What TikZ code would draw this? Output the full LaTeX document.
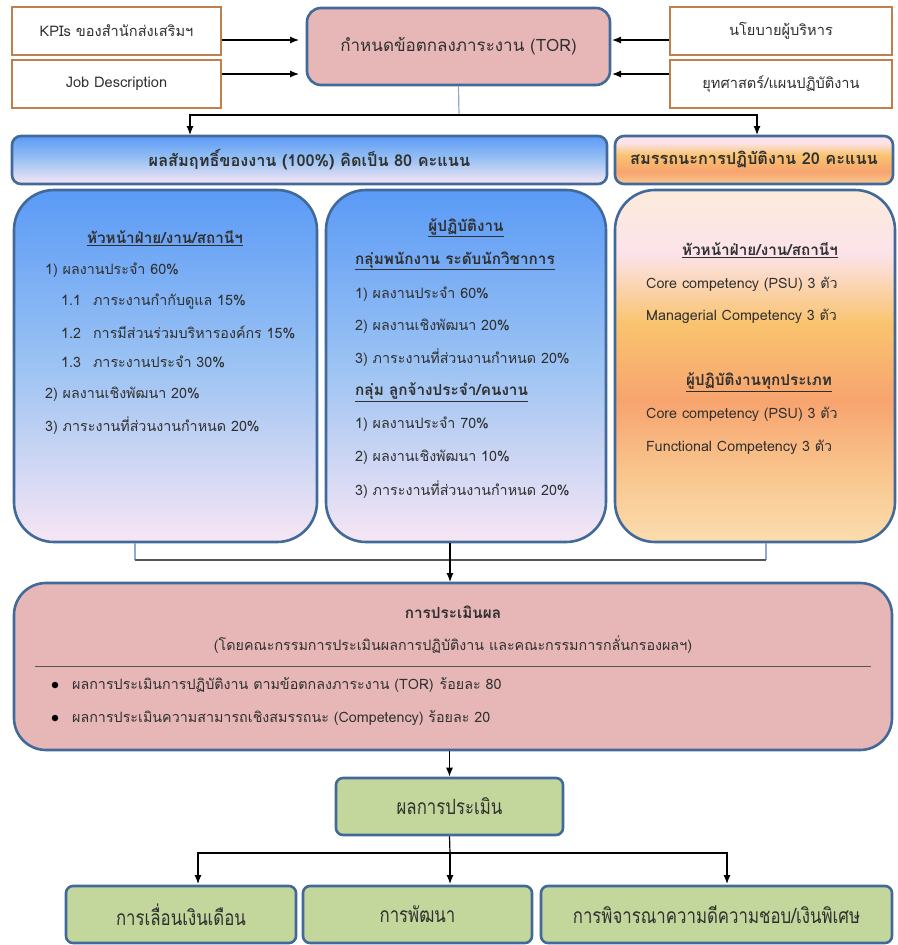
\documentclass[tikz,border=0pt]{standalone}
\usepackage{fontspec}
\setmainfont[Script=Thai]{Loma}
\usetikzlibrary{arrows.meta}

% palette
\definecolor{frameblue}{HTML}{41699A}
\definecolor{framebrown}{HTML}{C0804E}
\definecolor{torpink}{HTML}{E6B7B6}
\definecolor{leafgreen}{HTML}{C3D69B}
\definecolor{inktext}{HTML}{303030}
\definecolor{linkblue}{HTML}{8FAACB}
\definecolor{linkgray}{HTML}{555555}
\definecolor{blueTop}{HTML}{5A9AF6}
\definecolor{blueMid}{HTML}{9CC3F3}
\definecolor{blueBot}{HTML}{F7E6F4}
\definecolor{orA}{HTML}{FCEBDC}
\definecolor{orB}{HTML}{FCE3EA}
\definecolor{orC}{HTML}{F9C36E}
\definecolor{orD}{HTML}{F7A46F}
\definecolor{orE}{HTML}{F9C890}
\definecolor{orF}{HTML}{FBDCAE}

% vertical shadings, 25bp = bottom of the path, 75bp = top
\pgfdeclareverticalshading{bluefade}{100bp}{%
  color(0bp)=(blueBot); color(25bp)=(blueBot); color(50bp)=(blueMid);
  color(75bp)=(blueTop); color(100bp)=(blueTop)}
\pgfdeclareverticalshading{orangefade}{100bp}{%
  color(0bp)=(orF); color(25bp)=(orF); color(34bp)=(orE); color(45bp)=(orD);
  color(56bp)=(orC); color(66bp)=(orB); color(75bp)=(orA); color(100bp)=(orA)}
\pgfdeclareverticalshading{orangebar}{100bp}{%
  color(0bp)=(orE); color(25bp)=(orE); color(38bp)=(orD); color(55bp)=(orC);
  color(68bp)=(orB); color(75bp)=(orB); color(100bp)=(orB)}

\newcommand{\fsBody}{\fontsize{14.3}{17}\selectfont}
\newcommand{\fsTitle}{\fontsize{15.3}{18}\selectfont}
\newcommand{\fsSrc}{\fontsize{14.6}{17}\selectfont}
\newcommand{\fsHead}{\fontsize{16.3}{19}\selectfont}
\newcommand{\fsTor}{\fontsize{17}{20}\selectfont}
% narrow, tall lettering of the result boxes
\newcommand{\leaftext}[1]{\scalebox{0.8}[1]{\fontsize{21}{24}\selectfont #1}}

\begin{document}
\begin{tikzpicture}[x=1pt,y=-1pt,
  every node/.style={text=inktext},
  srcbox/.style={draw=framebrown, line width=1.3pt, fill=white, font=\fsSrc},
  torbox/.style={draw=frameblue, line width=2.6pt, fill=torpink, rounded corners=14pt, font=\fsTor},
  barbox/.style={draw=frameblue, line width=2.6pt, rounded corners=9pt, font=\fsHead\bfseries},
  colbox/.style={draw=frameblue, line width=2.6pt, rounded corners=40pt},
  evalbox/.style={draw=frameblue, line width=2.6pt, fill=torpink, rounded corners=32pt},
  leafbox/.style={draw=frameblue, line width=2.6pt, fill=leafgreen, rounded corners=7pt},
  line/.style={anchor=west, inner sep=0pt, font=\fsBody},
  headline/.style={inner sep=0pt, font=\fsTitle\bfseries},
  arr/.style={draw=black, line width=1.2pt, -{Latex[length=9pt,width=7pt]}},
  link/.style={draw=black, line width=1.2pt},
  softlink/.style={draw=linkblue, line width=1.2pt}]

\useasboundingbox (0,0) rectangle (897,945);

% ---------- inputs and TOR ----------
\node[srcbox, minimum width=209pt, minimum height=48pt] (kpi) at (116.5,31) {KPIs ของสำนักส่งเสริมฯ};
\node[srcbox, minimum width=209pt, minimum height=48pt] (jd)  at (116.5,84) {Job Description};
\node[srcbox, minimum width=222pt, minimum height=48pt] (pol) at (781,31) {นโยบายผู้บริหาร};
\node[srcbox, minimum width=222pt, minimum height=48pt] (str) at (781,84) {ยุทศาสตร์/แผนปฏิบัติงาน};
\node[torbox, minimum width=303pt, minimum height=77pt] (tor) at (458.5,46.5) {กำหนดข้อตกลงภาระงาน (TOR)};

\coordinate (torL1) at (299,40);
\coordinate (torL2) at (299,74);
\coordinate (torR1) at (612,40);
\coordinate (torR2) at (612,74);
\draw[arr] (kpi.east |- torL1) -- (torL1);
\draw[arr] (jd.east |- torL2) -- (torL2);
\draw[arr] (pol.west |- torR1) -- (torR1);
\draw[arr] (str.west |- torR2) -- (torR2);

% ---------- score bars ----------
\node[barbox, shading=bluefade, minimum width=595pt, minimum height=48pt] (hdrA) at (309.5,160) {ผลสัมฤทธิ์ของงาน (100\%) คิดเป็น 80 คะแนน};
\node[barbox, shading=orangebar, minimum width=278pt, minimum height=48pt] (hdrB) at (754,160) {สมรรถนะการปฏิบัติงาน 20 คะแนน};

\coordinate (split) at (459,115);
\coordinate (hdrAin) at (190,135);
\coordinate (hdrBin) at (757,135);
\draw[softlink] (tor.south) -- (split);
\draw[arr] (split) -| (hdrAin);
\draw[arr] (split) -| (hdrBin);

% ---------- detail columns ----------
\node[colbox, shading=bluefade, minimum width=303pt, minimum height=352pt] (colA) at (165.5,366) {};
\node[colbox, shading=bluefade, minimum width=280pt, minimum height=352pt] (colB) at (466,366) {};
\node[colbox, shading=orangefade, minimum width=280pt, minimum height=352pt] (colC) at (755,366) {};

% column A: heads of units
\node[headline] (a0) at (165,238) {\underline{หัวหน้าฝ่าย/งาน/สถานีฯ}};
\node[line] (a1) at (45,270) {1) ผลงานประจำ 60\%};
\node[line] (a2) at (61,302) {1.1\hspace{12pt}ภาระงานกำกับดูแล 15\%};
\node[line] (a3) at (61,332) {1.2\hspace{12pt}การมีส่วนร่วมบริหารองค์กร 15\%};
\node[line] (a4) at (61,362) {1.3\hspace{12pt}ภาระงานประจำ 30\%};
\node[line] (a5) at (45,394) {2) ผลงานเชิงพัฒนา 20\%};
\node[line] (a6) at (45,426) {3) ภาระงานที่ส่วนงานกำหนด 20\%};

% column B: staff
\node[headline] (b0) at (466,228) {\underline{ผู้ปฏิบัติงาน}};
\node[line, font=\fsTitle\bfseries] (b1) at (355,261) {\underline{กลุ่มพนักงาน ระดับนักวิชาการ}};
\node[line] (b2) at (355,294) {1) ผลงานประจำ 60\%};
\node[line] (b3) at (355,326) {2) ผลงานเชิงพัฒนา 20\%};
\node[line] (b4) at (355,358) {3) ภาระงานที่ส่วนงานกำหนด 20\%};
\node[line, font=\fsTitle\bfseries] (b5) at (355,392) {\underline{กลุ่ม ลูกจ้างประจำ/คนงาน}};
\node[line] (b6) at (355,424) {1) ผลงานประจำ 70\%};
\node[line] (b7) at (355,457) {2) ผลงานเชิงพัฒนา 10\%};
\node[line] (b8) at (355,490) {3) ภาระงานที่ส่วนงานกำหนด 20\%};

% column C: competencies
\node[headline] (c0) at (760,250) {\underline{หัวหน้าฝ่าย/งาน/สถานีฯ}};
\node[line] (c1) at (646,284) {Core competency (PSU) 3 ตัว};
\node[line] (c2) at (646,316) {Managerial Competency 3 ตัว};
\node[headline] (c3) at (759,382) {\underline{ผู้ปฏิบัติงานทุกประเภท}};
\node[line] (c4) at (646,414) {Core competency (PSU) 3 ตัว};
\node[line] (c5) at (646,447) {Functional Competency 3 ตัว};

% ---------- evaluation ----------
\node[evalbox, minimum width=878pt, minimum height=167pt] (eval) at (453,666.5) {};
\node[inner sep=0pt, font=\fsTitle\bfseries] (e0) at (453,612) {การประเมินผล};
\node[inner sep=0pt, font=\fsBody] (e1) at (453,645) {(โดยคณะกรรมการประเมินผลการปฏิบัติงาน และคณะกรรมการกลั่นกรองผลฯ)};
\coordinate (ruleL) at (35,666);
\coordinate (ruleR) at (871,666);
\draw[draw=linkgray, line width=0.9pt] (ruleL) -- (ruleR);
\node[circle, fill=black, inner sep=0pt, minimum size=6.5pt] (dot1) at (55,685) {};
\node[circle, fill=black, inner sep=0pt, minimum size=6.5pt] (dot2) at (55,718) {};
\node[line] (e2) at (72,685) {ผลการประเมินการปฏิบัติงาน ตามข้อตกลงภาระงาน (TOR)\hspace{6pt}ร้อยละ 80};
\node[line] (e3) at (72,718) {ผลการประเมินความสามารถเชิงสมรรถนะ (Competency) ร้อยละ 20};

\coordinate (gatherA) at (135,560);
\coordinate (gatherB) at (450,560);
\coordinate (gatherC) at (766,560);
\coordinate (evalin) at (450,582);
\draw[softlink] (colA.south -| gatherA) -- (gatherA);
\draw[softlink] (colC.south -| gatherC) -- (gatherC);
\draw[draw=linkgray, line width=1.2pt] (gatherA) -- (gatherC);
\draw[link] (colB.south -| gatherB) -- (gatherB);
\draw[arr] (gatherB) -- (evalin);

% ---------- results ----------
\node[leafbox, minimum width=227pt, minimum height=57pt] (res) at (449.5,806.5) {\leaftext{ผลการประเมิน}};
\draw[arr] (eval.south -| res.north) -- (res.north);

\node[leafbox, minimum width=230pt, minimum height=57pt] (out1) at (181,914.5) {\leaftext{การเลื่อนเงินเดือน}};
\node[leafbox, minimum width=229pt, minimum height=57pt] (out2) at (417.5,914.5) {\leaftext{การพัฒนา}};
\node[leafbox, minimum width=351pt, minimum height=57pt] (out3) at (716.5,914.5) {\leaftext{การพิจารณาความดีความชอบ/เงินพิเศษ}};

\coordinate (fork) at (450,853);
\coordinate (o1in) at (198,884);
\coordinate (o2in) at (450,884);
\coordinate (o3in) at (727,884);
\draw[link] (res.south) -- (fork);
\draw[arr] (fork) -| (o1in);
\draw[arr] (fork) -- (o2in);
\draw[arr] (fork) -| (o3in);

\end{tikzpicture}
\end{document}
